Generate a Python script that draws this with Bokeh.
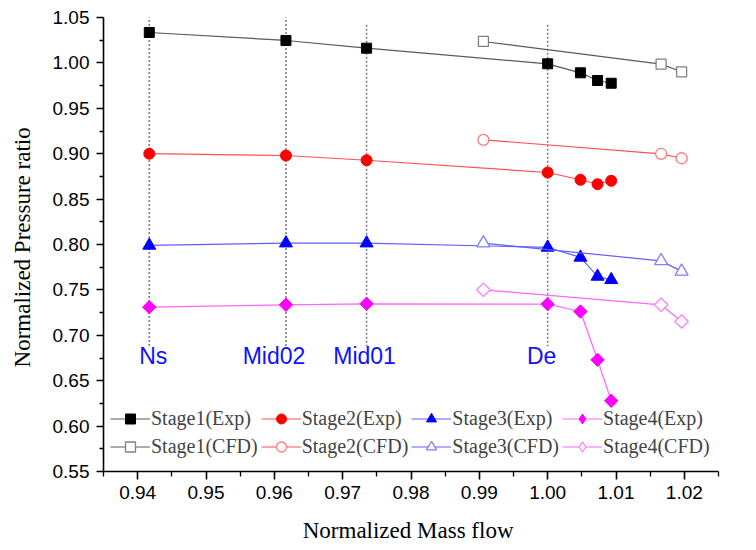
import numpy as np
from bokeh.plotting import figure
from bokeh.models import (Range1d, FixedTicker, NumeralTickFormatter, Legend,
                          LegendItem, ColumnDataSource)
from bokeh.core.properties import value
from bokeh.embed import file_html
from bokeh.resources import INLINE

# ---------------- data ----------------
exp_flow   = [0.9417, 0.9617, 0.9735, 1.0000, 1.0048, 1.0073, 1.0093]
stage1_exp = [1.0335, 1.0247, 1.0162, 0.9990, 0.9891, 0.9806, 0.9776]
stage2_exp = [0.9000, 0.8980, 0.8928, 0.8793, 0.8713, 0.8664, 0.8702]
stage3_exp = [0.7990, 0.8015, 0.8015, 0.7968, 0.7858, 0.7648, 0.7611]
stage4_exp = [0.7310, 0.7336, 0.7347, 0.7343, 0.7262, 0.6730, 0.6279]

cfd_flow   = [0.9906, 1.0166, 1.0196]
stage1_cfd = [1.0236, 0.9986, 0.9902]
stage2_cfd = [0.9153, 0.8999, 0.8950]
stage3_cfd = [0.8015, 0.7820, 0.7704]
stage4_cfd = [0.7501, 0.7336, 0.7152]

design_names = ["Ns", "Mid02", "Mid01", "De"]
design_flow  = [0.9417, 0.9617, 0.9735, 1.0000]
guide_top    = [1.056, 1.056, 1.042, 1.042]
guide_bottom = [0.688, 0.688, 0.688, 0.688]
label_y      = [0.677, 0.677, 0.677, 0.677]
label_dx     = [4, -12, -2, -6]

x_ticks = [0.94, 0.95, 0.96, 0.97, 0.98, 0.99, 1.00, 1.01, 1.02]
x_minor = [0.935, 0.945, 0.955, 0.965, 0.975, 0.985, 0.995, 1.005, 1.015, 1.025]
y_ticks = [0.55, 0.60, 0.65, 0.70, 0.75, 0.80, 0.85, 0.90, 0.95, 1.00, 1.05]
y_minor = [0.575, 0.625, 0.675, 0.725, 0.775, 0.825, 0.875, 0.925, 0.975, 1.025]

# ---------------- figure ----------------
p = figure(width=756, height=550, output_backend="svg", toolbar_location=None,
           x_range=Range1d(0.935, 1.025), y_range=Range1d(0.55, 1.05),
           min_border_left=103, min_border_right=38, min_border_top=17,
           min_border_bottom=79)
p.outline_line_color = None
p.xgrid.visible = False
p.ygrid.visible = False
p.background_fill_color = "white"
p.border_fill_color = "white"

# guide lines and design-point labels
gsrc = ColumnDataSource(dict(x=design_flow, y0=guide_top, y1=guide_bottom,
                             ly=label_y, name=design_names, dx=label_dx))
p.segment(x0="x", y0="y0", x1="x", y1="y1", source=gsrc, line_color="#7f7f7f",
          line_width=1.6, line_dash="2 2")
p.text(x="x", y="ly", text="name", x_offset="dx", source=gsrc,
       text_align="center", text_baseline="middle",
       text_font=value("Liberation Sans"), text_font_size="23px",
       text_color="#1010ff")

# name, exp values, cfd values, marker, size, angle, legend marker, colours
series = [
    ("Stage1", stage1_exp, stage1_cfd, "square", 10, 0, "square", "#000000", "#5a5a5a", "#808080"),
    ("Stage2", stage2_exp, stage2_cfd, "circle", 11, 0, "circle", "#ff0000", "#ff5050", "#ff7a7a"),
    ("Stage3", stage3_exp, stage3_cfd, "triangle", 13, 0, "triangle", "#0000ff", "#5f5fff", "#7f7fff"),
    ("Stage4", stage4_exp, stage4_cfd, "square", 9.5, np.pi / 4, "diamond", "#ff00ff", "#ff66ff", "#ff80ff"),
]

exp_items, cfd_items = [], []
for name, ev, cv, marker, size, ang, lmarker, col, lcol, ccol in series:
    esrc = ColumnDataSource(dict(x=np.array(exp_flow), y=np.array(ev)))
    csrc = ColumnDataSource(dict(x=np.array(cfd_flow), y=np.array(cv)))
    l1 = p.line("x", "y", source=esrc, line_color=lcol, line_width=1.2)
    s1 = p.scatter("x", "y", source=esrc, marker=marker, size=size, angle=ang,
                   fill_color=col, line_color=col)
    l2 = p.line("x", "y", source=csrc, line_color=lcol, line_width=1.2)
    s2 = p.scatter("x", "y", source=csrc, marker=marker, size=size, angle=ang,
                   fill_color="white", line_color=ccol, line_width=1.3)
    if lmarker != marker:
        # legend-only glyphs: same x, no drawable y, so only the legend shows them
        hidden_e = ColumnDataSource(dict(x=np.array(exp_flow), y=np.full(len(exp_flow), np.nan)))
        hidden_c = ColumnDataSource(dict(x=np.array(cfd_flow), y=np.full(len(cfd_flow), np.nan)))
        s1 = p.scatter("x", "y", source=hidden_e, marker=lmarker, size=size,
                       fill_color=col, line_color=col)
        s2 = p.scatter("x", "y", source=hidden_c, marker=lmarker, size=size,
                       fill_color="white", line_color=ccol, line_width=1.3)
    exp_items.append(LegendItem(label=f"{name}(Exp)", renderers=[l1, s1]))
    cfd_items.append(LegendItem(label=f"{name}(CFD)", renderers=[l2, s2]))

legend = Legend(items=exp_items + cfd_items, orientation="horizontal", ncols=4,
                location=(7, 12), label_text_font="Liberation Serif",
                label_text_font_size="20px", glyph_width=40, glyph_height=25,
                label_height=25, label_standoff=1, spacing=3, padding=0,
                margin=0, border_line_color=None, background_fill_alpha=0)
p.add_layout(legend)

# ---------------- axes ----------------
for ax in (p.xaxis[0], p.yaxis[0]):
    ax.axis_line_width = 1.6
    ax.major_tick_line_width = 1.6
    ax.minor_tick_line_width = 1.3
    ax.major_tick_in = 0
    ax.minor_tick_in = 0
    ax.major_label_text_font = "Liberation Sans"
    ax.major_label_text_font_size = "19px"
    ax.major_label_text_color = "black"
    ax.axis_label_text_font = "Liberation Serif"
    ax.axis_label_text_font_size = "23px"
    ax.axis_label_text_font_style = "normal"
    ax.axis_label_text_color = "black"
    ax.formatter = NumeralTickFormatter(format="0.00")

p.xaxis[0].ticker = FixedTicker(ticks=x_ticks, minor_ticks=x_minor)
p.yaxis[0].ticker = FixedTicker(ticks=y_ticks, minor_ticks=y_minor)
p.xaxis[0].major_tick_out = 8
p.xaxis[0].minor_tick_out = 5
p.yaxis[0].major_tick_out = 7
p.yaxis[0].minor_tick_out = 4
p.xaxis[0].major_label_standoff = 6
p.yaxis[0].major_label_standoff = 7
p.xaxis[0].axis_label = "Normalized  Mass flow"
p.yaxis[0].axis_label = "Normalized  Pressure ratio"
p.xaxis[0].axis_label_standoff = 16
p.yaxis[0].axis_label_standoff = 15

open("out.html", "w").write(file_html(p, INLINE))
